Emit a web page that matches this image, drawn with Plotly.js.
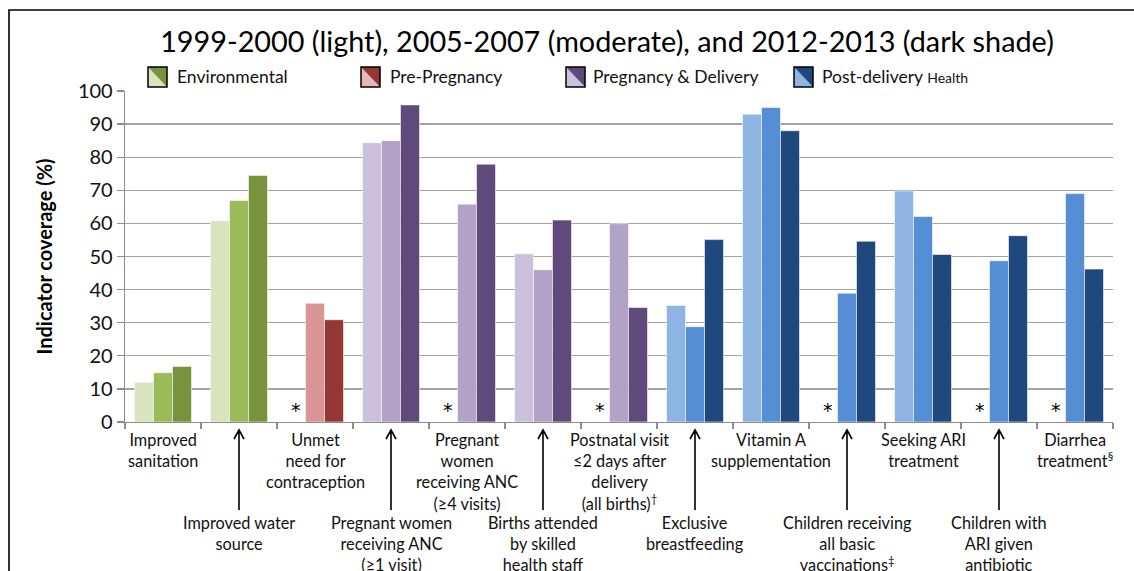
<!DOCTYPE html>
<html>
<head>
<meta charset="utf-8">
<script src="https://cdn.plot.ly/plotly-3.0.1.min.js"></script>
<style>html,body{margin:0;padding:0;background:#fff;}#chart{width:1134px;height:571px;}</style>
</head>
<body>
<div id="chart"></div>
<script>
// ---- data ----
const categories = [
  "Improved<br>sanitation",
  "Improved water<br>source",
  "Unmet<br>need for<br>contraception",
  "Pregnant women<br>receiving ANC<br>(≥1 visit)",
  "Pregnant<br>women<br>receiving ANC<br>(≥4 visits)",
  "Births attended<br>by skilled<br>health staff",
  "Postnatal visit<br>≤2 days after<br>delivery<br>(all births)<sup>†</sup>",
  "Exclusive<br>breastfeeding",
  "Vitamin A<br>supplementation",
  "Children receiving<br>all basic<br>vaccinations<sup>‡</sup>",
  "Seeking ARI<br>treatment",
  "Children with<br>ARI given<br>antibiotic",
  "Diarrhea<br>treatment<sup>§</sup>"
];
const groupOf = ["env","env","pre","preg","preg","preg","preg","post","post","post","post","post","post"];
const light    = [12.0, 60.8, null, 84.4, null, 50.8, null, 35.2, 93.0, null, 69.8, null, null];
const moderate = [14.9, 66.9, 35.9, 85.0, 65.8, 46.0, 59.9, 28.8, 95.0, 38.9, 62.1, 48.7, 69.0];
const dark     = [16.8, 74.5, 30.9, 95.8, 77.9, 61.0, 34.6, 55.1, 88.0, 54.6, 50.6, 56.3, 46.2];
const seriesNames = ["1999-2000", "2005-2007", "2012-2013"];
const groupLabels = ["Environmental", "Pre-Pregnancy", "Pregnancy & Delivery", "Post-delivery <span style='font-size:14px'>Health</span>"];
const groupKeys = ["env","pre","preg","post"];
const yTicks = [0,10,20,30,40,50,60,70,80,90,100];

// ---- styles ----
const palette = {
  env:  ["#D7E4BD", "#9BBB59", "#77933C"],
  pre:  ["#E6B9B8", "#D99694", "#953735"],
  preg: ["#CCC1DA", "#B3A2C7", "#604A7B"],
  post: ["#8EB4E3", "#558ED5", "#1F497D"]
};
const FONT = "Lato, 'Open Sans', sans-serif";
const W = 1134, H = 571;
const PL = 125, PR = 1113, PT = 91, PB = 422;
const px = X => (X - PL) / (PR - PL);
const py = Y => (PB - Y) / (PB - PT);
const n = categories.length;

const values = [light, moderate, dark];
const traces = values.map((vals, s) => ({
  type: "bar",
  name: seriesNames[s],
  x: categories,
  y: vals,
  marker: {
    color: groupOf.map(g => palette[g][s]),
    line: {color: "rgba(255,255,255,0.55)", width: 1}
  },
  hoverinfo: "y+name",
  showlegend: false
}));

const annotations = [];
const shapes = [];

// category labels (alternating rows)
categories.forEach((c, i) => {
  if (i % 2 === 0) {
    annotations.push({
      x: i, xref: "x", y: py(428), yref: "paper",
      text: c, showarrow: false, xanchor: "center", yanchor: "top",
      font: {family: FONT, size: 16.3, color: "#111"}, align: "center"
    });
  } else {
    annotations.push({
      x: i, xref: "x", y: py(511), yref: "paper",
      text: c, showarrow: false, xanchor: "center", yanchor: "top",
      font: {family: FONT, size: 16.3, color: "#111"}, align: "center"
    });
    const xc = (i + 0.5) / n, dx = 5 / (PR - PL);
    shapes.push({type: "path", xref: "paper", yref: "paper",
      path: `M${xc},${py(510)} L${xc},${py(430)} M${xc - dx},${py(439)} L${xc},${py(430)} L${xc + dx},${py(439)}`,
      line: {color: "#000", width: 1.6}});
  }
});

// asterisks where earliest survey is missing
light.forEach((v, i) => {
  if (v === null) {
    annotations.push({
      x: i - 0.25, xref: "x", y: py(410), yref: "paper",
      text: "*", showarrow: false, xanchor: "center", yanchor: "middle",
      font: {family: "'DejaVu Sans', sans-serif", size: 19, color: "#000"}
    });
  }
});

// custom legend
const iconX = [148, 361, 566, 794];
const textX = [175, 388, 591, 820];
groupKeys.forEach((g, k) => {
  const x0 = px(iconX[k]), x1 = px(iconX[k] + 19), y0 = py(67), y1 = py(87);
  shapes.push({type: "path", xref: "paper", yref: "paper",
    path: `M${x0},${y0} L${x0},${y1} L${x1},${y1} Z`,
    fillcolor: palette[g][0], line: {width: 0}});
  shapes.push({type: "path", xref: "paper", yref: "paper",
    path: `M${x0},${y0} L${x1},${y0} L${x1},${y1} Z`,
    fillcolor: palette[g][2], line: {width: 0}});
  shapes.push({type: "rect", xref: "paper", yref: "paper",
    x0: x0, x1: x1, y0: y0, y1: y1, line: {color: "#000", width: 1.5}});
  annotations.push({
    x: px(textX[k]), xref: "paper", y: py(77), yref: "paper",
    text: groupLabels[k], showarrow: false, xanchor: "left", yanchor: "middle",
    font: {family: FONT, size: 17.5, color: "#111"}
  });
});

// outer frame
shapes.push({type: "rect", xref: "paper", yref: "paper",
  x0: px(9), x1: px(1160), y0: py(10), y1: py(600),
  line: {color: "#000", width: 1.6}, layer: "below"});

const layout = {
  width: W, height: H,
  margin: {l: PL, r: W - PR, t: PT, b: H - PB, pad: 0},
  paper_bgcolor: "#fff", plot_bgcolor: "#fff",
  title: {text: "1999-2000 (light), 2005-2007 (moderate), and 2012-2013 (dark shade)",
    font: {family: FONT, size: 28.8, color: "#000"},
    x: px(607), xref: "paper", xanchor: "center", y: 1 - 42 / H, yref: "container", yanchor: "middle"},
  barmode: "group", bargap: 0.25, bargroupgap: 0,
  xaxis: {
    type: "category", showticklabels: false, tickson: "boundaries",
    ticks: "outside", ticklen: 6, tickcolor: "#8c8c8c", tickwidth: 1.3,
    showline: true, linecolor: "#8c8c8c", linewidth: 1.3, showgrid: false,
    range: [-0.5, n - 0.5], fixedrange: true
  },
  yaxis: {
    range: [0, 100], tickvals: yTicks, ticktext: yTicks.map(String),
    ticks: "outside", ticklen: 7, tickcolor: "#8c8c8c", tickwidth: 1.3,
    showline: true, linecolor: "#8c8c8c", linewidth: 1.3,
    showgrid: true, gridcolor: "#a3a3a3", gridwidth: 1.4, zeroline: false,
    tickfont: {family: FONT, size: 20, color: "#111"},
    title: {text: "<b>Indicator coverage (%)</b>", font: {family: FONT, size: 20, color: "#000"}, standoff: 20},
    fixedrange: true
  },
  annotations: annotations,
  shapes: shapes,
  showlegend: false
};

Plotly.newPlot("chart", traces, layout, {displayModeBar: false, staticPlot: true});
</script>
</body>
</html>
